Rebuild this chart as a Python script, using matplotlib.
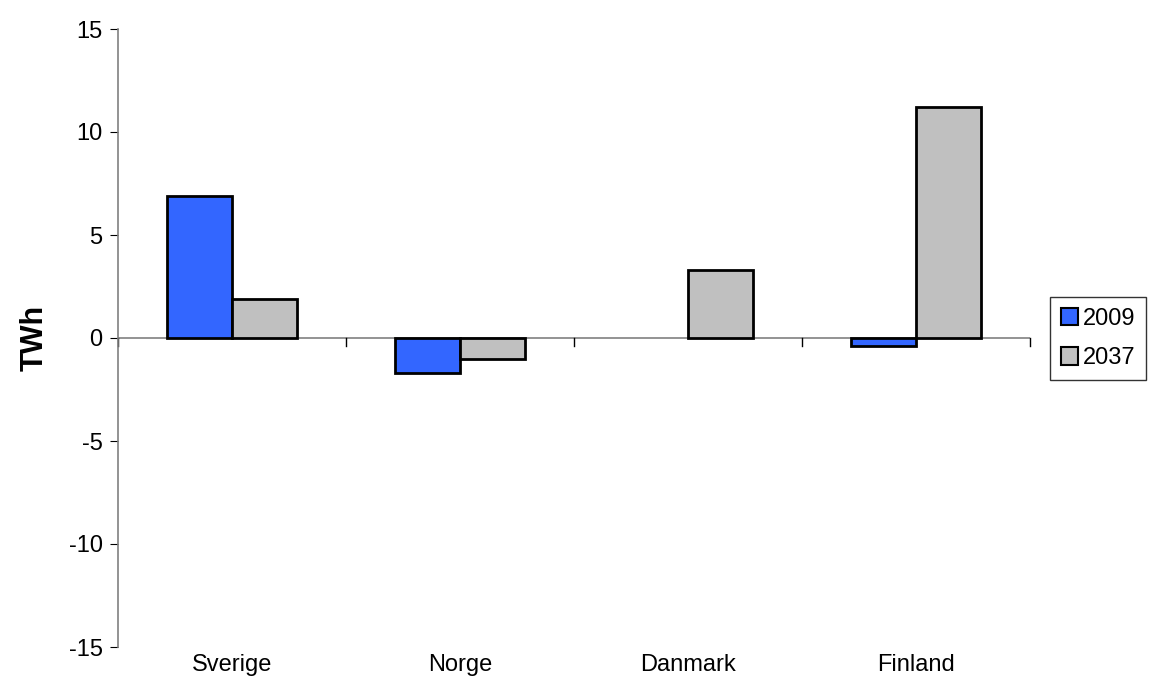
import numpy as np
import matplotlib.pyplot as plt

plt.rcParams['font.family'] = ['Liberation Sans', 'DejaVu Sans']

countries = ["Sverige", "Norge", "Danmark", "Finland"]
series = ["2009", "2037"]
v2009 = [6.9, -1.7, 0.0, -0.4]
v2037 = [1.9, -1.0, 3.3, 11.2]

fig = plt.figure(figsize=(11.51, 6.99), dpi=100)
ax = fig.add_axes([118 / 1151, 1 - 647 / 699, (1030 - 118) / 1151, (647 - 29) / 699])

x = np.arange(len(countries))
w = 1 / 3.5
b1 = ax.bar(x - w / 2, v2009, w, color="#3366ff", edgecolor="black", linewidth=2, label=series[0], zorder=3)
b2 = ax.bar(x + w / 2, v2037, w, color="#c0c0c0", edgecolor="black", linewidth=2, label=series[1], zorder=3)
# empty bars leave no stroke on the zero line
for p in list(b1) + list(b2):
    if p.get_height() == 0:
        p.set_linewidth(0)

ax.set_xlim(-0.5, len(countries) - 0.5)
ax.set_ylim(-15, 15)
ax.set_yticks(range(-15, 16, 5))
ax.set_yticklabels([str(t) for t in range(-15, 16, 5)], fontsize=17)

# category labels under the plot, tick marks at the category borders on the zero line
ax.set_xticks(x)
ax.set_xticklabels([])
for i, c in enumerate(countries):
    ax.text(i, -15.35, c, ha="center", va="top", fontsize=17)

ax.spines["top"].set_visible(False)
ax.spines["right"].set_visible(False)
ax.spines["bottom"].set_visible(False)
ax.spines["left"].set_color("#808080")
ax.spines["left"].set_linewidth(1.2)
ax.axhline(0, color="#808080", linewidth=1.2, zorder=2)
for b in np.arange(-0.5, len(countries), 1.0):
    ax.plot([b, b], [0, -0.4], color="black", linewidth=1, zorder=2, clip_on=False)
ax.tick_params(axis="x", length=0)
ax.tick_params(axis="y", length=6, color="black", direction="out", pad=5)

ax.set_ylabel("TWh", fontsize=22, fontweight="bold", labelpad=14)

leg = fig.legend(loc="upper left", bbox_to_anchor=(1050 / 1151, 1 - 297 / 699),
                 fontsize=17, frameon=True, fancybox=False, edgecolor="black",
                 handlelength=0.75, handleheight=0.75, handletextpad=0.2,
                 borderpad=0.45, labelspacing=0.75, borderaxespad=0)
leg.get_frame().set_linewidth(1)
for h in leg.legend_handles:
    h.set_linewidth(1.5)

fig.savefig("out.png", dpi=100)
